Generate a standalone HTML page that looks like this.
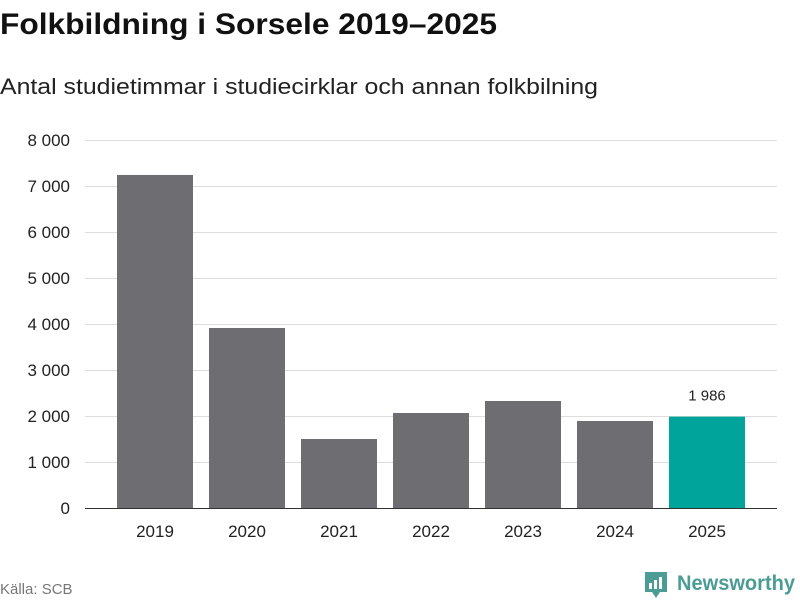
<!DOCTYPE html>
<html><head><meta charset="utf-8"><style>
body{margin:0;background:#fff;font-family:"Liberation Sans",sans-serif;}
#wrap{position:relative;width:800px;height:600px;overflow:hidden}
</style></head><body>
<div id="wrap">
<svg id="svg" width="800" height="600">
<text x="0" y="34" font-size="30" font-weight="bold" fill="#111" textLength="497" lengthAdjust="spacingAndGlyphs">Folkbildning i Sorsele 2019–2025</text>
<text x="0" y="94" font-size="22" fill="#222" textLength="598" lengthAdjust="spacingAndGlyphs">Antal studietimmar i studiecirklar och annan folkbilning</text>
<g id="grid"></g><g id="bars"></g>
<line x1="85" x2="777" y1="508.5" y2="508.5" stroke="#333" stroke-width="1"/>
<text x="0" y="594" font-size="15" fill="#777">Källa: SCB</text>
<g>
<path d="M645 572 h22 v20 h-7 l-4 6 l-4 -6 h-7 z" fill="#4a9c95"/>
<rect x="649" y="583" width="3" height="6" fill="#fff"/><rect x="654" y="580" width="3" height="9" fill="#fff"/><rect x="659" y="577" width="3" height="12" fill="#fff"/>
<text x="677" y="590" font-size="21" font-weight="bold" fill="#4a9c95" textLength="118" lengthAdjust="spacingAndGlyphs">Newsworthy</text>
</g>
</svg></div>
<script>
const categories=["2019","2020","2021","2022","2023","2024","2025"];
const values=[7240,3913,1500,2065,2326,1891,1986];
const ticks=[0,1000,2000,3000,4000,5000,6000,7000,8000];
const tickLabels=["0","1 000","2 000","3 000","4 000","5 000","6 000","7 000","8 000"];
const valueLabels=["","","","","","","1 986"];
const ns="http://www.w3.org/2000/svg";
const y=v=>508-v*46/1000;
const bandX=i=>109+i*92;
const g=document.getElementById('grid'),b=document.getElementById('bars');
function mk(t,a,p){const e=document.createElementNS(ns,t);for(const k in a)e.setAttribute(k,a[k]);p.appendChild(e);return e;}
ticks.forEach((t,i)=>{
 if(t>0){const l=mk('line',{x1:85,x2:777,y1:y(t)+.5,y2:y(t)+.5,stroke:'#ddd'},g);
 
 }
 const tx=mk('text',{x:70,y:y(t)+6,'font-size':17,fill:'#222','text-anchor':'end'},g);tx.textContent=tickLabels[i];
 
 
});
categories.forEach((c,i)=>{
 const r=mk('rect',{x:bandX(i)+8,y:y(values[i]),width:76,height:508-y(values[i]),fill:i==6?'#00a49a':'#6e6d72'},b);
 
 
 const t=mk('text',{x:bandX(i)+46,y:537,'font-size':17,fill:'#222','text-anchor':'middle'},b);t.textContent=c;
 
 
 if(valueLabels[i]){const v=mk('text',{x:bandX(i)+46,y:y(values[i])-16,'font-size':15,fill:'#222','text-anchor':'middle'},b);v.textContent=valueLabels[i];
 
 }
});
</script></body></html>
